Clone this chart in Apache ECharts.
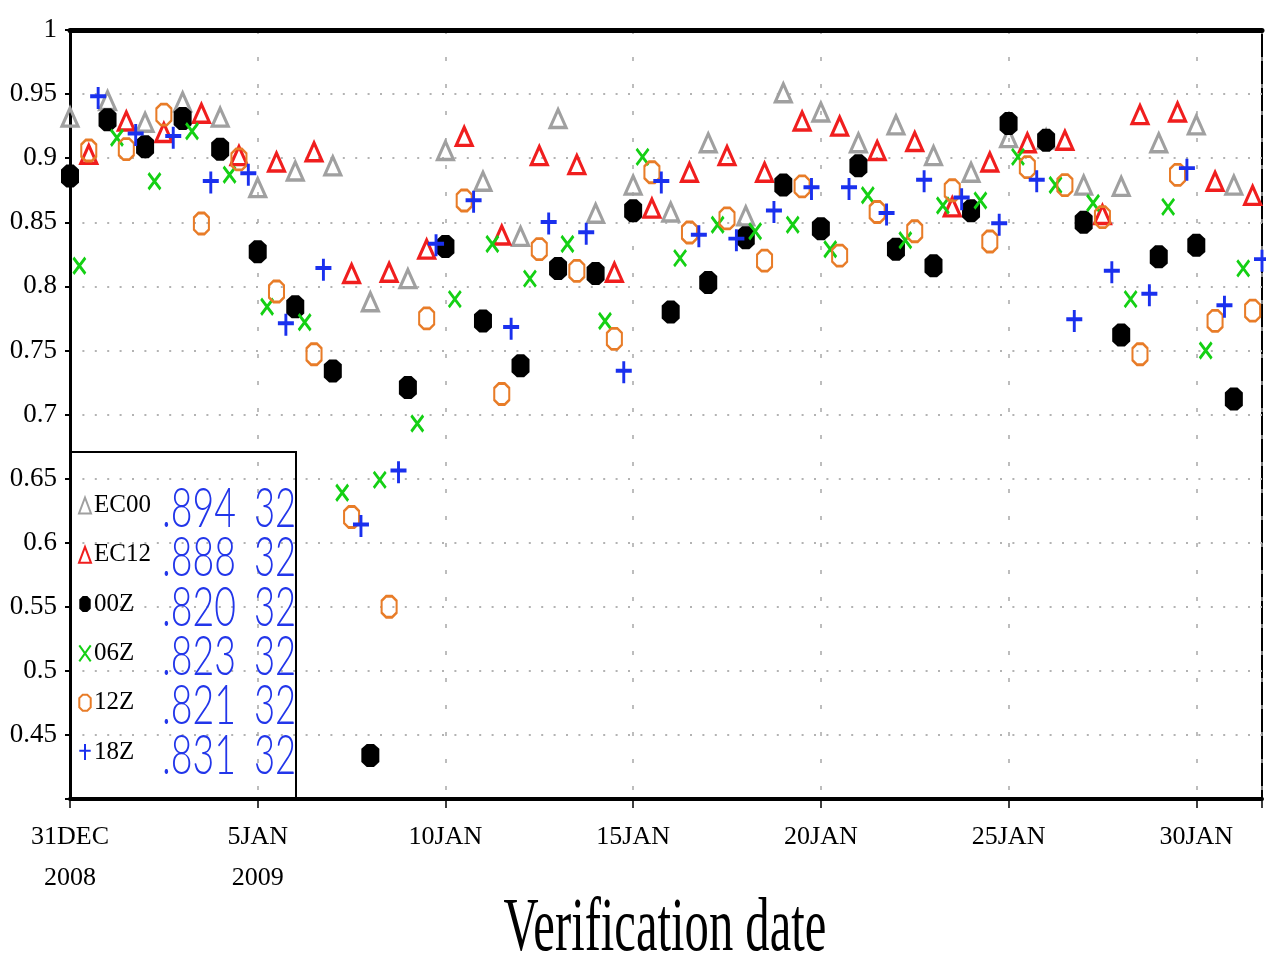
<!DOCTYPE html>
<html><head><meta charset="utf-8">
<script src="https://cdn.jsdelivr.net/npm/echarts@6/dist/echarts.min.js"></script>
<style>html,body{margin:0;padding:0;background:#fff}#c{width:1266px;height:965px}</style>
</head><body><div id="c"></div>
<script>
// ---- data ----
const seriesNames = ['EC00', 'EC12', '00Z', '06Z', '12Z', '18Z'];
const seriesHours = [0, 12, 0, 6, 12, 18];   // verification hour of each series (day = 31DEC + index)
const ec00 = [0.932,0.945,0.928,0.944,0.932,0.877,0.890,0.894,0.788,0.806,0.906,0.882,0.839,0.931,0.857,0.879,0.858,0.912,0.855,0.951,0.936,0.912,0.926,0.902,0.889,0.916,0.915,0.879,0.878,0.912,0.926,0.879];
const ec12 = [0.903,0.929,0.920,0.935,0.902,0.897,0.905,0.810,0.811,0.829,0.917,0.840,0.902,0.895,0.811,0.861,0.889,0.902,0.889,0.929,0.925,0.906,0.913,0.862,0.897,0.912,0.914,0.856,0.934,0.936,0.882,0.871];
const z00  = [0.886,0.930,0.909,0.931,0.907,0.827,0.784,0.734,0.434,0.721,0.831,0.773,0.738,0.814,0.810,0.859,0.780,0.803,0.838,0.879,0.845,0.894,0.829,0.816,0.859,0.927,0.914,0.850,0.762,0.823,0.832,0.712];
const z06  = [0.816,0.916,0.882,0.921,0.887,0.784,0.772,0.639,0.649,0.693,0.790,0.833,0.806,0.833,0.773,0.901,0.822,0.848,0.843,0.848,0.829,0.871,0.836,0.863,0.867,0.901,0.879,0.865,0.790,0.862,0.750,0.814];
const z12  = [0.906,0.907,0.934,0.849,0.899,0.796,0.747,0.620,0.550,0.775,0.867,0.716,0.829,0.812,0.759,0.889,0.842,0.853,0.820,0.878,0.824,0.858,0.843,0.875,0.835,0.893,0.879,0.854,0.747,0.887,0.773,0.781];
const z18  = [0.947,0.918,0.916,0.881,0.887,0.770,0.813,0.613,0.655,0.832,0.866,0.767,0.849,0.841,0.733,0.881,0.839,0.836,0.858,0.876,0.876,0.856,0.882,0.868,0.848,0.882,0.773,0.811,0.793,0.891,0.784,0.820];
const meanScores = ['.894', '.888', '.820', '.823', '.821', '.831'];
const caseCounts = ['32', '32', '32', '32', '32', '32'];
const xTickLabels = ['31DEC\n2008', '5JAN\n2009', '10JAN', '15JAN', '20JAN', '25JAN', '30JAN'];
const yTickLabels = ['', '0.45', '0.5', '0.55', '0.6', '0.65', '0.7', '0.75', '0.8', '0.85', '0.9', '0.95', '1'];
const xAxisTitle = 'Verification date';

const seriesValues = [ec00, ec12, z00, z06, z12, z18];

// ---- styles ----
const SERIF = '"Liberation Serif", "DejaVu Serif", serif';
const NUMFONT = '300 56px Lato, "Liberation Sans", sans-serif';
const styles = [
  { symbol: 'triangle', size: [16, 18], item: { color: 'rgba(255,255,255,0)', borderColor: '#a0a0a0', borderWidth: 3.2, opacity: 1 } },
  { symbol: 'triangle', size: [16, 18], item: { color: 'rgba(255,255,255,0)', borderColor: '#f01e1e', borderWidth: 3.2, opacity: 1 } },
  { symbol: 'path://M3,0 L7,0 L10,3 L10,11 L7,14 L3,14 L0,11 L0,3 Z', size: [18, 23], item: { color: '#000', borderColor: '#000', borderWidth: 0, opacity: 1 } },
  { symbol: 'path://M0,0 L10,14 M10,0 L0,14', size: [12, 16], item: { color: 'rgba(0,0,0,0)', borderColor: '#14d014', borderWidth: 3, opacity: 1 } },
  { symbol: 'path://M3,0 L7,0 L10,3 L10,11 L7,14 L3,14 L0,11 L0,3 Z', size: [15, 21], item: { color: 'rgba(255,255,255,0)', borderColor: '#e87c28', borderWidth: 2.4, opacity: 1 } },
  { symbol: 'path://M5,0 L5,14 M0,6 L10,6', size: [16, 22], item: { color: 'rgba(0,0,0,0)', borderColor: '#1a30ee', borderWidth: 3.4, opacity: 1 } }
];

const series = seriesNames.map((name, s) => ({
  name: name,
  type: 'scatter',
  symbol: styles[s].symbol,
  symbolSize: styles[s].size,
  itemStyle: styles[s].item,
  emphasis: { disabled: true },
  z: 2 + s,
  data: seriesValues[s].map((v, i) => [i + seriesHours[s] / 24, v])
}));

const legendTop = 493, legendGap = 49.3;
const graphics = [
  { type: 'rect', z: 20, shape: { x: 70, y: 452, width: 226, height: 347 }, style: { fill: 'none', stroke: '#000', lineWidth: 2 } },
  { type: 'text', z: 20, x: 665, y: 930, scaleX: 0.64,
    style: { text: xAxisTitle, font: '76px ' + SERIF, fill: '#000', textAlign: 'center', textVerticalAlign: 'middle' } }
];
meanScores.forEach((m, i) => {
  const y = legendTop + 16 + i * legendGap;
  graphics.push({ type: 'text', z: 20, x: 162, y: y, scaleX: 0.67,
    style: { text: m, font: NUMFONT, fill: '#2236ea', textAlign: 'left', textVerticalAlign: 'middle' } });
  graphics.push({ type: 'text', z: 20, x: 254, y: y, scaleX: 0.65,
    style: { text: caseCounts[i], font: NUMFONT, fill: '#2236ea', textAlign: 'left', textVerticalAlign: 'middle' } });
});

const chart = echarts.init(document.getElementById('c'), null, { renderer: 'canvas' });
chart.setOption({
  animation: false,
  backgroundColor: '#fff',
  grid: { left: 70, right: 4, top: 30, bottom: 166, containLabel: false, outerBoundsMode: 'none',
          show: true, borderColor: '#000', borderWidth: 2, backgroundColor: 'transparent' },
  xAxis: [{
    type: 'value', min: 0, max: 31.75, interval: 5,
    axisLine: { show: true, onZero: false, lineStyle: { color: '#000', width: 4 } },
    axisTick: { show: true, inside: false, length: 9, lineStyle: { color: '#000', width: 1.5 } },
    axisLabel: {
      margin: 18, color: '#000', fontFamily: SERIF, fontSize: 26, lineHeight: 41,
      formatter: v => { const k = Math.round(v / 5); return (Math.abs(v - k * 5) < 1e-6 && k < xTickLabels.length) ? xTickLabels[k] : ''; }
    },
    splitLine: { show: true, lineStyle: { color: '#a8a8a8', width: 1.5, type: [4, 23] } }
  }, {
    type: 'value', position: 'top', min: 0, max: 31.75,
    axisLine: { show: true, onZero: false, lineStyle: { color: '#000', width: 5 } },
    axisTick: { show: false }, axisLabel: { show: false }, splitLine: { show: false }
  }],
  yAxis: {
    type: 'value', min: 0.4, max: 1, interval: 0.05,
    axisLine: { show: true, onZero: false, lineStyle: { color: '#000', width: 3 } },
    axisTick: { show: true, inside: false, length: 5, lineStyle: { color: '#000', width: 2 } },
    axisLabel: {
      margin: 13, color: '#000', fontFamily: SERIF, fontSize: 27,
      formatter: v => yTickLabels[Math.round((v - 0.4) / 0.05)] || ''
    },
    splitLine: { show: true, lineStyle: { color: '#b3b3b3', width: 2, type: [2, 10.4] } }
  },
  legend: {
    orient: 'vertical', left: 78, top: legendTop, itemGap: 24.3,
    itemWidth: 12, itemHeight: 16, padding: 0,
    selectedMode: false,
    textStyle: { color: '#000', fontFamily: SERIF, fontSize: 25, lineHeight: 25, padding: [0, 0, 0, -2] },
    data: seriesNames
  },
  graphic: graphics,
  series: series
});
</script></body></html>
